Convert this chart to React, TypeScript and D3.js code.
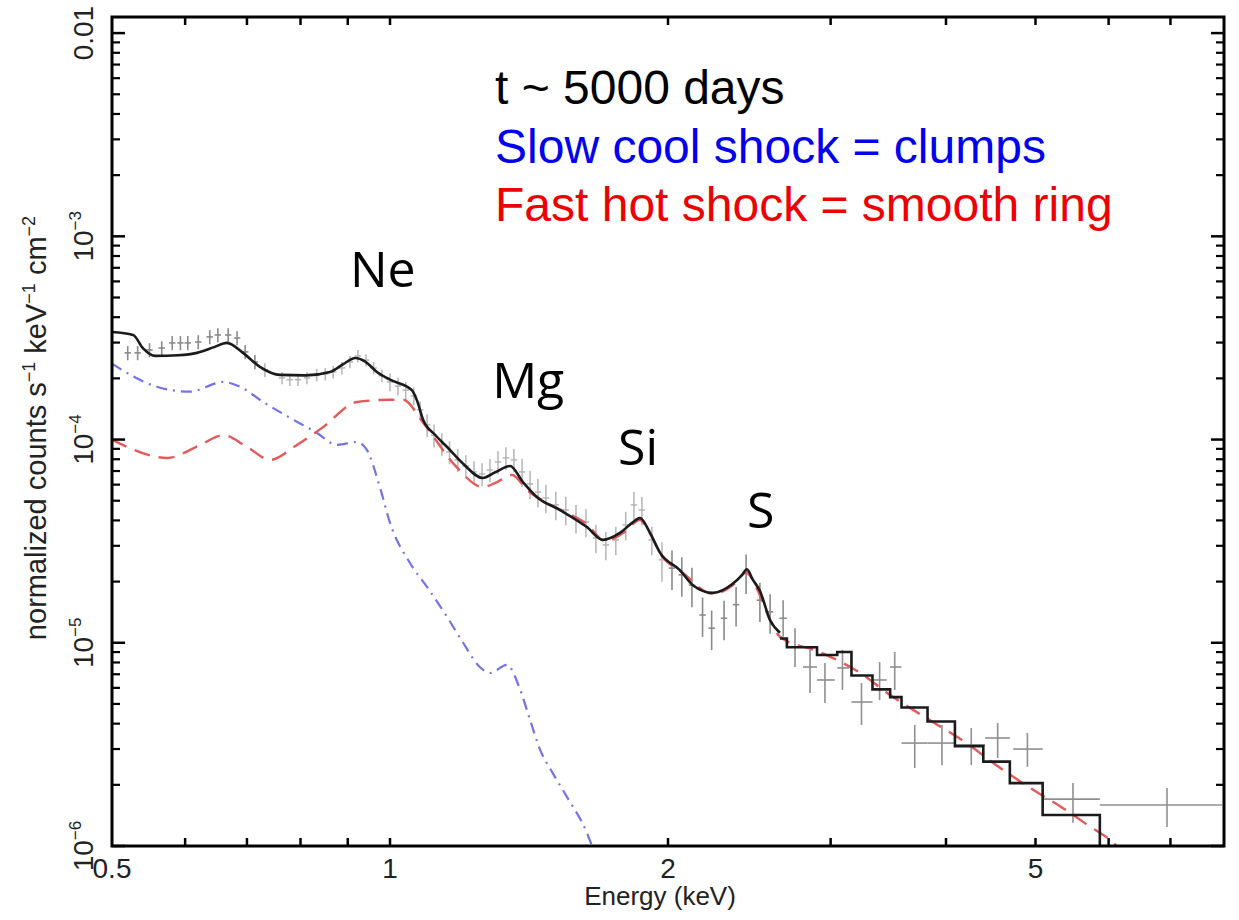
import React from 'react';
import * as d3 from 'd3';

// ---------- axes ----------
const X_DOMAIN: [number, number] = [0.5, 8];
const Y_DOMAIN: [number, number] = [1e-6, 0.012];
const X_TICKS = [0.6, 0.7, 0.8, 0.9, 1, 2, 3, 4, 5, 6, 7];
const X_LABELS = [0.5, 1, 2, 5];
const X_LABEL_TEXT = ['0.5', '1', '2', '5'];
const Y_MAJOR = [1e-6, 1e-5, 1e-4, 1e-3, 1e-2];
const Y_LABEL_BASE = ['10', '10', '10', '10', '0.01'];
const Y_LABEL_EXP = ['−6', '−5', '−4', '−3', ''];

// ---------- total model (black histogram) ----------
const totalE = [0.5, 0.527, 0.54, 0.557, 0.59, 0.618, 0.645, 0.666, 0.693, 0.723, 0.76, 0.81, 0.861, 0.89, 0.917, 0.94, 0.968, 1.0, 1.056, 1.07, 1.086, 1.12, 1.153, 1.2, 1.26, 1.3, 1.349, 1.393, 1.442, 1.528, 1.634, 1.7, 1.774, 1.83, 1.865, 1.91, 1.961, 2.06, 2.128, 2.237, 2.35, 2.405, 2.435, 2.47, 2.515, 2.58, 2.644];
const totalY = [3.38e-4, 3.27e-4, 2.82e-4, 2.58e-4, 2.6e-4, 2.67e-4, 2.85e-4, 2.99e-4, 2.67e-4, 2.28e-4, 2.08e-4, 2.07e-4, 2.15e-4, 2.35e-4, 2.52e-4, 2.42e-4, 2.15e-4, 1.97e-4, 1.75e-4, 1.55e-4, 1.25e-4, 1.05e-4, 9.19e-5, 7.6e-5, 6.47e-5, 6.9e-5, 7.41e-5, 6.18e-5, 5.22e-5, 4.5e-5, 3.71e-5, 3.21e-5, 3.47e-5, 3.9e-5, 4.11e-5, 3.51e-5, 2.77e-5, 2.28e-5, 1.92e-5, 1.76e-5, 1.95e-5, 2.15e-5, 2.3e-5, 2.05e-5, 1.8e-5, 1.29e-5, 1.12e-5];
const stepE = [2.644, 2.69, 2.9, 3.05, 3.16, 3.33, 3.48, 3.58, 3.82, 4.09, 4.39, 4.69, 5.09, 5.87];
const stepY = [1.05e-5, 9.5e-6, 8.7e-6, 9.0e-6, 6.9e-6, 5.9e-6, 5.4e-6, 4.8e-6, 4.1e-6, 3.1e-6, 2.6e-6, 2.04e-6, 1.42e-6, 8e-7];

// ---------- fast hot shock (red dashed) ----------
const hotE = [0.5, 0.574, 0.62, 0.66, 0.7, 0.742, 0.79, 0.846, 0.921, 1.0, 1.033, 1.086, 1.18, 1.26, 1.306, 1.356, 1.407, 1.479, 1.555, 1.634, 1.709, 1.788, 1.865, 1.91, 1.97, 2.07, 2.237, 2.35, 2.43, 2.5, 2.58, 2.644, 2.92, 3.23, 3.48, 3.87, 4.21, 4.5, 4.97, 5.35, 5.69, 6.12, 6.3];
const hotY = [1.0e-4, 8.12e-5, 9.3e-5, 1.05e-4, 9.2e-5, 7.94e-5, 9.3e-5, 1.15e-4, 1.53e-4, 1.57e-4, 1.57e-4, 1.21e-4, 7.33e-5, 5.84e-5, 6.18e-5, 6.69e-5, 5.65e-5, 4.88e-5, 4.35e-5, 3.84e-5, 3.17e-5, 3.47e-5, 4.02e-5, 3.47e-5, 2.67e-5, 2.23e-5, 1.74e-5, 1.92e-5, 2.21e-5, 1.82e-5, 1.29e-5, 1.07e-5, 9.01e-6, 7.1e-6, 5.53e-6, 4.08e-6, 3.21e-6, 2.56e-6, 1.89e-6, 1.54e-6, 1.27e-6, 1.0e-6, 8.5e-7];

// ---------- slow cool shock (blue dash-dot) ----------
const coolE = [0.5, 0.559, 0.607, 0.66, 0.688, 0.729, 0.779, 0.833, 0.876, 0.921, 0.944, 0.975, 1.0, 1.051, 1.097, 1.153, 1.2, 1.251, 1.283, 1.339, 1.38, 1.418, 1.454, 1.5, 1.555, 1.634, 1.655, 1.68];
const coolY = [2.36e-4, 1.82e-4, 1.72e-4, 1.92e-4, 1.82e-4, 1.53e-4, 1.28e-4, 1.08e-4, 9.41e-5, 9.73e-5, 8.89e-5, 5.84e-5, 3.89e-5, 2.47e-5, 1.88e-5, 1.34e-5, 1.0e-5, 7.6e-6, 7.1e-6, 7.78e-6, 6.06e-6, 4.17e-6, 2.97e-6, 2.29e-6, 1.74e-6, 1.16e-6, 1.0e-6, 8.5e-7];

// ---------- data, densely binned ----------
const denseE = [0.52, 0.533, 0.549, 0.566, 0.581, 0.593, 0.604, 0.62, 0.638, 0.651, 0.668, 0.683, 0.697, 0.714, 0.732, 0.764, 0.779, 0.795, 0.813, 0.833, 0.851, 0.868, 0.887, 0.905, 0.923, 0.942, 0.96, 0.98, 1.0, 1.02, 1.04, 1.061, 1.078, 1.097, 1.116, 1.138, 1.16, 1.184, 1.208, 1.233, 1.258, 1.283, 1.309, 1.335, 1.362, 1.39, 1.418, 1.446, 1.475, 1.512, 1.55, 1.59, 1.63, 1.671, 1.713, 1.756, 1.8, 1.837, 1.874, 1.921, 1.97, 2.02, 2.07, 2.123, 2.18, 2.23, 2.3, 2.37, 2.43, 2.515, 2.58];
const denseY = [2.67e-4, 2.67e-4, 2.76e-4, 2.82e-4, 2.99e-4, 2.99e-4, 2.99e-4, 3.02e-4, 3.2e-4, 3.27e-4, 3.27e-4, 3.16e-4, 2.7e-4, 2.41e-4, 2.2e-4, 2.01e-4, 1.97e-4, 1.97e-4, 2.01e-4, 2.08e-4, 2.1e-4, 2.15e-4, 2.25e-4, 2.41e-4, 2.58e-4, 2.46e-4, 2.25e-4, 2.06e-4, 1.92e-4, 1.83e-4, 1.75e-4, 1.64e-4, 1.4e-4, 1.18e-4, 1.05e-4, 9.51e-5, 8.69e-5, 7.94e-5, 7.41e-5, 6.93e-5, 6.77e-5, 7.09e-5, 7.76e-5, 8.12e-5, 7.94e-5, 6.93e-5, 6.05e-5, 5.52e-5, 5.16e-5, 4.77e-5, 4.5e-5, 4.11e-5, 3.93e-5, 3.28e-5, 3.03e-5, 3.21e-5, 3.8e-5, 4.77e-5, 4.5e-5, 3.21e-5, 2.56e-5, 2.33e-5, 2.16e-5, 1.92e-5, 1.37e-5, 1.18e-5, 1.32e-5, 1.54e-5, 2.23e-5, 1.62e-5, 1.42e-5];
const denseErr = [0.08, 0.08, 0.08, 0.08, 0.08, 0.08, 0.08, 0.08, 0.08, 0.08, 0.08, 0.08, 0.08, 0.08, 0.08, 0.07, 0.07, 0.07, 0.07, 0.07, 0.07, 0.07, 0.07, 0.07, 0.07, 0.07, 0.07, 0.07, 0.1, 0.1, 0.1, 0.1, 0.1, 0.13, 0.13, 0.13, 0.13, 0.13, 0.13, 0.13, 0.13, 0.13, 0.13, 0.13, 0.13, 0.16, 0.16, 0.16, 0.16, 0.16, 0.16, 0.16, 0.16, 0.16, 0.16, 0.16, 0.16, 0.16, 0.16, 0.16, 0.22, 0.22, 0.22, 0.22, 0.22, 0.22, 0.22, 0.22, 0.22, 0.22, 0.22];
const DENSE_HALF_BIN = 0.008;

// ---------- data, wide bins at high energy ----------
const sparseE = [2.665, 2.745, 2.85, 2.958, 3.09, 3.24, 3.39, 3.52, 3.7, 3.96, 4.26, 4.55, 4.9, 5.49, 6.94];
const sparseELo = [2.64, 2.71, 2.8, 2.9, 3.05, 3.16, 3.33, 3.48, 3.58, 3.82, 4.09, 4.41, 4.73, 5.09, 5.87];
const sparseEHi = [2.69, 2.78, 2.9, 3.03, 3.14, 3.33, 3.45, 3.58, 3.82, 4.09, 4.41, 4.69, 5.09, 5.87, 7.96];
const sparseY = [1.32e-5, 9.54e-6, 7.6e-6, 6.56e-6, 7.52e-6, 5.11e-6, 6.56e-6, 7.6e-6, 3.21e-6, 3.21e-6, 3.14e-6, 3.4e-6, 3.0e-6, 1.7e-6, 1.59e-6];
const sparseYLo = [1.07e-5, 7.6e-6, 5.66e-6, 5.06e-6, 5.86e-6, 3.94e-6, 5.23e-6, 5.86e-6, 2.42e-6, 2.5e-6, 2.5e-6, 2.71e-6, 2.45e-6, 1.3e-6, 1.24e-6];
const sparseYHi = [1.62e-5, 1.18e-5, 9.22e-6, 7.95e-6, 9.22e-6, 6.34e-6, 8.04e-6, 9.01e-6, 3.94e-6, 3.94e-6, 3.81e-6, 4.03e-6, 3.6e-6, 2.04e-6, 1.93e-6];

// ---------- annotations ----------
const NOTE_LINES = ['t ~ 5000 days', 'Slow cool shock = clumps', 'Fast hot shock = smooth ring'];
const NOTE_COLORS = ['#000000', '#0000ee', '#ee0000'];
const ELEMENTS = ['Ne', 'Mg', 'Si', 'S'];
const ELEMENT_E = [0.905, 1.29, 1.766, 2.435];
const ELEMENT_Y = [5.64e-4, 1.6e-4, 7.5e-5, 3.67e-5];

const SANS = "'Liberation Sans', Arial, Helvetica, sans-serif";

export default function App() {
  React.useEffect(() => {
    document.body.style.margin = '0';
  }, []);

  const left = 112, right = 1224, top = 17, bottom = 846;
  const x = d3.scaleLog().domain(X_DOMAIN).range([left, right]);
  const y = d3.scaleLog().domain(Y_DOMAIN).range([bottom, top]);

  const smooth = d3
    .line<[number, number]>()
    .x((d) => x(d[0]))
    .y((d) => y(d[1]))
    .curve(d3.curveMonotoneX);
  const stepped = d3
    .line<[number, number]>()
    .x((d) => x(d[0]))
    .y((d) => y(d[1]))
    .curve(d3.curveStepAfter);

  const zip = (a: number[], b: number[]) => a.map((v, i) => [v, b[i]] as [number, number]);

  const yMinor: number[] = [];
  for (let e = -6; e <= -3; e++) for (let k = 2; k <= 9; k++) yMinor.push(k * Math.pow(10, e));

  return (
    <svg
      width={1239}
      height={920}
      style={{ position: 'absolute', left: 0, top: 0, background: '#fff' }}
      fontFamily={SANS}
    >
      <rect x={0} y={0} width={1239} height={920} fill="#fff" />
      <defs>
        <clipPath id="plot">
          <rect x={left} y={top} width={right - left} height={bottom - top} />
        </clipPath>
      </defs>

      <g clipPath="url(#plot)">
        {denseE.map((e, i) => {
          const v = denseY[i];
          const f = denseErr[i];
          const light = e > 0.72 && e < 2.0;
          return (
            <g key={'d' + i} stroke={light ? '#b9b9b9' : '#8a8a8a'} strokeWidth={1.6}>
              <line x1={x(e)} x2={x(e)} y1={y(v * (1 - f))} y2={y(v * (1 + f))} />
              <line x1={x(e * (1 - DENSE_HALF_BIN))} x2={x(e * (1 + DENSE_HALF_BIN))} y1={y(v)} y2={y(v)} />
            </g>
          );
        })}
        {sparseE.map((e, i) => (
          <g key={'s' + i} stroke="#8f8f8f" strokeWidth={1.6}>
            <line x1={x(e)} x2={x(e)} y1={y(sparseYLo[i])} y2={y(sparseYHi[i])} />
            <line x1={x(sparseELo[i])} x2={x(sparseEHi[i])} y1={y(sparseY[i])} y2={y(sparseY[i])} />
          </g>
        ))}

        <path
          d={smooth(zip(coolE, coolY)) || ''}
          fill="none"
          stroke="#7373e6"
          strokeWidth={2.2}
          strokeDasharray="11 6 2 6"
        />
        <path
          d={smooth(zip(hotE, hotY)) || ''}
          fill="none"
          stroke="#e25a5a"
          strokeWidth={2.4}
          strokeDasharray="16 9"
        />
        <path d={smooth(zip(totalE, totalY)) || ''} fill="none" stroke="#1b1b1b" strokeWidth={2.6} />
        <path d={stepped(zip(stepE, stepY)) || ''} fill="none" stroke="#1b1b1b" strokeWidth={2.6} />
      </g>

      <rect x={left} y={top} width={right - left} height={bottom - top} fill="none" stroke="#000" strokeWidth={3} />

      {X_TICKS.map((t) => (
        <g key={'xt' + t} stroke="#000" strokeWidth={2.5}>
          <line x1={x(t)} x2={x(t)} y1={bottom} y2={bottom - 8} />
          <line x1={x(t)} x2={x(t)} y1={top} y2={top + 8} />
        </g>
      ))}
      {Y_MAJOR.map((t) => (
        <g key={'yM' + t} stroke="#000" strokeWidth={2.5}>
          <line x1={left} x2={left + 13} y1={y(t)} y2={y(t)} />
          <line x1={right} x2={right - 13} y1={y(t)} y2={y(t)} />
        </g>
      ))}
      {yMinor.map((t) => (
        <g key={'ym' + t} stroke="#000" strokeWidth={2.2}>
          <line x1={left} x2={left + 8} y1={y(t)} y2={y(t)} />
          <line x1={right} x2={right - 8} y1={y(t)} y2={y(t)} />
        </g>
      ))}

      {X_LABELS.map((t, i) => (
        <text key={'xl' + t} x={x(t)} y={878} textAnchor="middle" fontSize={28} fill="#222">
          {X_LABEL_TEXT[i]}
        </text>
      ))}
      {Y_MAJOR.map((t, i) => (
        <text
          key={'yl' + t}
          transform={`translate(93,${y(t)}) rotate(-90)`}
          textAnchor="middle"
          fontSize={28}
          fill="#222"
        >
          {Y_LABEL_BASE[i]}
          {Y_LABEL_EXP[i] && (
            <tspan fontSize={17} dy={-12}>
              {Y_LABEL_EXP[i]}
            </tspan>
          )}
        </text>
      ))}

      <text x={660} y={905} textAnchor="middle" fontSize={26} fill="#222">
        Energy (keV)
      </text>
      <text transform="translate(46,428) rotate(-90)" textAnchor="middle" fontSize={29} fill="#222">
        normalized counts s<tspan fontSize={18} dy={-11}>−1</tspan>
        <tspan dy={11}> keV</tspan>
        <tspan fontSize={18} dy={-11}>−1</tspan>
        <tspan dy={11}> cm</tspan>
        <tspan fontSize={18} dy={-11}>−2</tspan>
      </text>

      {NOTE_LINES.map((s, i) => (
        <text key={'n' + i} x={495} y={104 + i * 58.5} fontSize={48} fill={NOTE_COLORS[i]}>
          {s}
        </text>
      ))}
      {ELEMENTS.map((s, i) => (
        <text
          key={'el' + s}
          x={x(ELEMENT_E[i])}
          y={y(ELEMENT_Y[i])}
          fontSize={50}
          fontFamily="'Open Sans', 'DejaVu Sans', sans-serif"
          fill="#000"
        >
          {s}
        </text>
      ))}
    </svg>
  );
}
